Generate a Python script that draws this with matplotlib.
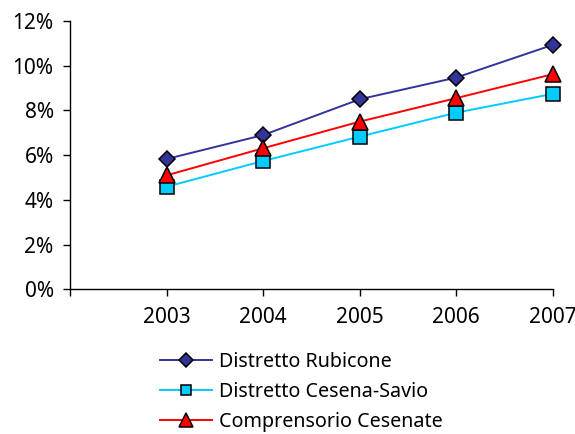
import matplotlib
matplotlib.use("Agg")
import matplotlib.pyplot as plt
from matplotlib.ticker import FuncFormatter

# dati percentuali per anno
anni = ["2003", "2004", "2005", "2006", "2007"]
rubicone = [5.83, 6.90, 8.50, 9.47, 10.93]
cesena_savio = [4.59, 5.74, 6.83, 7.90, 8.74]
comprensorio = [5.10, 6.31, 7.50, 8.55, 9.62]

serie = [
    ("Distretto Rubicone", rubicone, "#333399", "#333399", "D", 8.2),
    ("Distretto Cesena-Savio", cesena_savio, "#00CCFF", "#00CCFF", "s", 9.4),
    ("Comprensorio Cesenate", comprensorio, "#FF0000", "#FF0000", "^", 11.5),
]

plt.rcParams['font.family'] = ['Noto Sans', 'DejaVu Sans']

fig = plt.figure(figsize=(5.75, 4.34), dpi=100)
W, H = 575, 434
ax = fig.add_axes([70.3 / W, 1 - 289.3 / H, (552.7 - 70.3) / W, (289.3 - 21) / H])

x = list(range(len(anni)))
for nome, valori, col_linea, col_marker, marker, ms in serie:
    ax.plot(x, valori, color=col_linea, linewidth=1.4, marker=marker,
            markersize=ms, markerfacecolor=col_marker, markeredgecolor="black",
            markeredgewidth=1.1, label=nome, clip_on=False)

ax.set_ylim(0, 12)
ax.set_yticks(range(0, 13, 2))
ax.yaxis.set_major_formatter(FuncFormatter(lambda v, p: f"{v:.0f}%"))

# categoria vuota a sinistra, come nel foglio originale
ax.set_xlim(-1, len(anni) - 1)
ax.set_xticks([-1] + x)
ax.set_xticklabels([""] + anni)

for s in ("top", "right"):
    ax.spines[s].set_visible(False)
for s in ("left", "bottom"):
    ax.spines[s].set_linewidth(1.0)
    ax.spines[s].set_color("black")

ax.tick_params(axis="both", direction="out", length=5, width=1.0,
               labelsize=15, colors="black", pad=7)
ax.tick_params(axis="x", pad=8)

fig.legend(loc="upper left", bbox_to_anchor=(160 / W, 1 - 352 / H),
           frameon=False, fontsize=14.2, handlelength=2.65, handletextpad=0.35,
           labelspacing=0.5, borderaxespad=0, borderpad=0, markerscale=0.82)

fig.savefig("out.png", dpi=100, facecolor="white")
